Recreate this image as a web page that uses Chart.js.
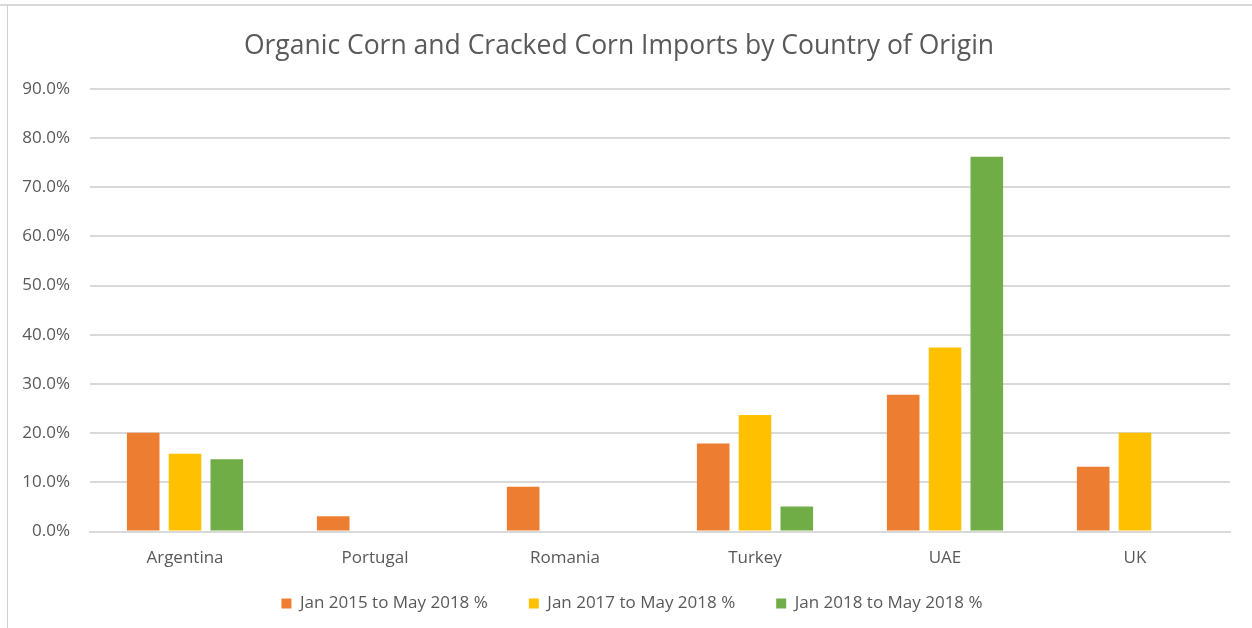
<!DOCTYPE html>
<html lang="en">
<head>
    <meta charset="UTF-8">
    <title>Organic Corn and Cracked Corn Imports</title>
    <script src="https://cdn.jsdelivr.net/npm/chart.js"></script>
    <style>
        body {
            margin: 0;
            background: #ffffff;
            font-family: "Open Sans", Arial, sans-serif;
        }
        .frame {
            position: relative;
            width: 1252px;
            height: 628px;
            overflow: hidden;
        }
        .frame .top-line {
            position: absolute;
            left: 0;
            top: 4px;
            width: 1252px;
            height: 2px;
            background: #d9d9d9;
        }
        .frame .left-line {
            position: absolute;
            left: 7px;
            top: 5px;
            width: 1px;
            height: 623px;
            background: #d0d0d0;
        }
        .chart-box {
            position: absolute;
            left: 0;
            top: 0;
            width: 1252px;
            height: 628px;
        }
    </style>
</head>
<body>
    <div class="frame">
        <div class="top-line"></div>
        <div class="left-line"></div>
        <div class="chart-box">
            <canvas id="importsChart"></canvas>
        </div>
    </div>

    <script>
        const countries = ['Argentina', 'Portugal', 'Romania', 'Turkey', 'UAE', 'UK'];
        const seriesNames = ['Jan 2015 to May 2018 %', 'Jan 2017 to May 2018 %', 'Jan 2018 to May 2018 %'];
        const jan2015 = [20.1, 3.1, 9.1, 17.9, 27.8, 13.2];
        const jan2017 = [15.8, null, null, 23.7, 37.4, 20.1];
        const jan2018 = [14.7, null, null, 5.1, 76.2, null];
        const seriesColors = ['#ED7D31', '#FFC000', '#70AD47'];

        const textColor = '#595959';
        const gridColor = '#d9d9d9';
        const fontFamily = '"Open Sans", Arial, sans-serif';

        // legend uses the same value for item gap and top gap, so pull its top up after layout
        const legendNudge = {
            id: 'legendNudge',
            afterLayout(chart) {
                const lg = chart.legend;
                lg.top -= 30;
                lg.left += 13;
                lg.right += 13;
            }
        };

        const ctx = document.getElementById('importsChart').getContext('2d');

        const chart = new Chart(ctx, {
            type: 'bar',
            data: {
                labels: countries,
                datasets: [jan2015, jan2017, jan2018].map((values, i) => ({
                    label: seriesNames[i],
                    data: values,
                    backgroundColor: seriesColors[i],
                    borderWidth: 0,
                    barPercentage: 0.78,
                    categoryPercentage: 0.66
                }))
            },
            plugins: [legendNudge],
            options: {
                responsive: true,
                maintainAspectRatio: false,
                animation: false,
                layout: {
                    padding: { left: 8, right: 22, top: 10, bottom: 4 }
                },
                plugins: {
                    title: {
                        display: true,
                        text: 'Organic Corn and Cracked Corn Imports by Country of Origin',
                        color: textColor,
                        font: { size: 26.5, weight: 'normal', family: fontFamily },
                        padding: { top: 21, bottom: 26 }
                    },
                    legend: {
                        position: 'bottom',
                        maxHeight: 40,
                        labels: {
                            color: textColor,
                            boxWidth: 10,
                            boxHeight: 10,
                            padding: 41,
                            font: { size: 17, family: fontFamily }
                        }
                    },
                    tooltip: { enabled: false }
                },
                scales: {
                    x: {
                        grid: { display: false, drawTicks: false },
                        border: { display: true, color: gridColor, width: 2 },
                        ticks: {
                            color: textColor,
                            padding: 16,
                            font: { size: 17, family: fontFamily }
                        }
                    },
                    y: {
                        min: 0,
                        max: 90,
                        afterFit: function(scale) {
                            scale.width = 82;
                        },
                        grid: { color: gridColor, lineWidth: 2, drawTicks: false },
                        border: { display: false },
                        ticks: {
                            stepSize: 10,
                            color: textColor,
                            padding: 20,
                            font: { size: 17, family: fontFamily },
                            callback: function(value) {
                                return value.toFixed(1) + '%';
                            }
                        }
                    }
                }
            }
        });
    </script>
</body>
</html>
